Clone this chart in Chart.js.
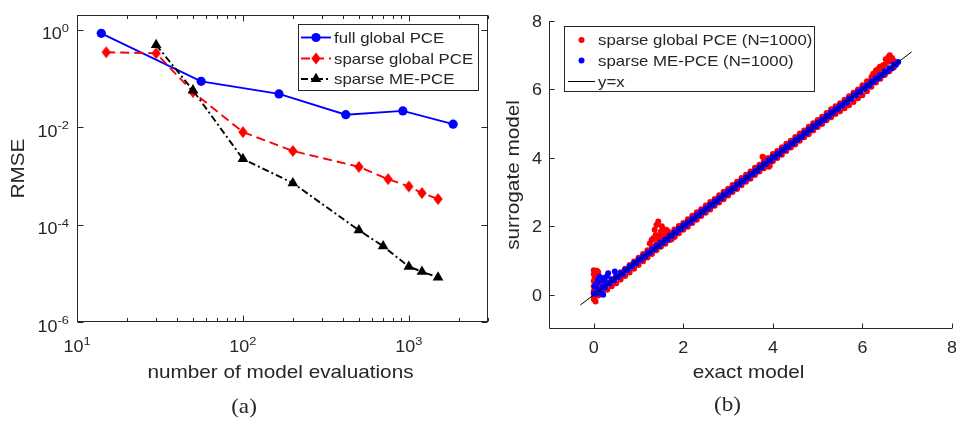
<!DOCTYPE html>
<html>
<head>
<meta charset="utf-8">
<script src="https://cdn.jsdelivr.net/npm/chart.js@4.4.0/dist/chart.umd.min.js"></script>
<style>
  html, body { margin: 0; padding: 0; background: #fff; }
  body { width: 956px; height: 421px; position: relative; overflow: hidden; }
  canvas { position: absolute; top: 0; }
  #convergence { left: 0; }
  #scatter { left: 500px; }
</style>
</head>
<body>
<canvas id="convergence" width="500" height="421"></canvas>
<canvas id="scatter" width="456" height="421"></canvas>
<script>
// ---------- (a) RMSE against number of model evaluations ----------
const seriesNames = ['full global PCE', 'sparse global PCE', 'sparse ME-PCE'];
const nEvalFull   = [14, 56, 165, 417, 920, 1849];
const rmseFull    = [0.84, 0.087, 0.048, 0.018, 0.0215, 0.0115];
const nEvalSparse = [15, 30, 50, 100, 200, 500, 750, 1000, 1200, 1500];
const rmseSparse  = [0.344, 0.328, 0.0525, 0.0079, 0.00324, 0.00153, 0.000857, 0.000605, 0.000444, 0.000334];
const nEvalME     = [30, 50, 100, 200, 500, 700, 1000, 1200, 1500];
const rmseME      = [0.487, 0.0569, 0.00222, 0.00071, 7.65e-5, 3.6e-5, 1.37e-5, 1.08e-5, 8.2e-6];

const xMajorTicks = [10, 100, 1000];
const xMajorExp   = ['1', '2', '3'];
const xMinorTicks = [20, 30, 40, 50, 60, 70, 80, 90, 200, 300, 400, 500, 600, 700, 800, 900, 2000, 3000];
const yMajorTicks = [1, 1e-2, 1e-4, 1e-6];
const yMajorExp   = ['0', '-2', '-4', '-6'];

// ---------- (b) surrogate model against exact model ----------
const scatterNames = ['sparse global PCE (N=1000)', 'sparse ME-PCE (N=1000)', 'y=x'];
const redBandX = [0.0,0.1,0.2,0.3,0.4,0.5,0.6,0.7,0.8,0.9,
  1.0,1.1,1.2,1.3,1.4,1.5,1.6,1.7,1.8,1.9,
  2.0,2.1,2.2,2.3,2.4,2.5,2.6,2.7,2.8,2.9,
  3.0,3.1,3.2,3.3,3.4,3.5,3.6,3.7,3.8,3.9,
  4.0,4.1,4.2,4.3,4.4,4.5,4.6,4.7,4.8,4.9,
  5.0,5.1,5.2,5.3,5.4,5.5,5.6,5.7,5.8,5.9,
  6.0,6.1,6.2,6.3,6.4,6.5,6.6,6.7];
const redUpperY = [0.10,0.22,0.30,0.36,0.46,0.55,0.66,0.76,0.87,0.97,
  1.08,1.19,1.30,1.41,1.50,1.61,1.71,1.80,1.91,2.01,
  2.10,2.21,2.31,2.41,2.50,2.61,2.71,2.80,2.91,3.01,
  3.10,3.21,3.30,3.41,3.51,3.60,3.71,3.80,3.93,4.00,
  4.11,4.20,4.31,4.41,4.50,4.61,4.71,4.80,4.91,5.01,
  5.11,5.20,5.31,5.42,5.51,5.60,5.70,5.80,5.90,6.00,
  6.12,6.24,6.36,6.48,6.60,6.72,6.82,6.84];
const redLowerY = [-0.12,-0.02,0.06,0.15,0.25,0.34,0.45,0.55,0.65,0.76,
  0.87,0.98,1.09,1.19,1.30,1.40,1.49,1.60,1.69,1.80,
  1.90,1.99,2.10,2.19,2.30,2.40,2.49,2.60,2.70,2.79,
  2.90,3.00,3.09,3.20,3.30,3.39,3.50,3.60,3.70,3.76,
  3.90,4.00,4.09,4.20,4.30,4.39,4.50,4.60,4.69,4.80,
  4.90,4.99,5.10,5.19,5.28,5.36,5.45,5.54,5.63,5.74,
  5.83,5.95,6.08,6.20,6.31,6.42,6.53,6.64];
const redOutX = [0.00,0.03,0.07,0.10,0.00,0.02,0.00,0.03,0.00,0.02,0.00,0.01,0.02,0.04,0.08,0.12,0.05,0.06,0.09,
  1.44,1.40,1.36,1.33,1.47,1.55,1.62,1.66,1.59,1.70,1.44,1.29,1.74,1.81,1.50,1.38,1.52,1.25,
  3.77,3.80,3.91,3.93,
  6.61,6.58,6.46,6.39,6.24,6.52,6.30,6.66,6.55,6.45,6.35];
const redOutY = [0.72,0.68,0.70,0.66,0.60,0.50,0.40,0.32,0.25,0.15,0.05,-0.05,-0.15,-0.20,0.45,0.38,0.55,0.20,0.30,
  2.14,2.04,1.90,1.65,1.75,1.92,1.90,1.85,1.75,1.80,1.60,1.60,1.62,1.70,1.85,1.75,2.00,1.50,
  4.03,4.00,3.74,3.77,
  7.00,6.95,6.71,6.66,6.46,6.88,6.55,6.92,6.80,6.62,6.60];

const blueAX = [0.0,0.1,0.2,0.3,0.4,0.5,0.6,0.7,0.8,0.9,
  1.0,1.1,1.2,1.3,1.4,1.5,1.6,1.7,1.8,1.9,
  2.0,2.1,2.2,2.3,2.4,2.5,2.6,2.7,2.8,2.9,
  3.0,3.1,3.2,3.3,3.4,3.5,3.6,3.7,3.8,3.9,
  4.0,4.1,4.2,4.3,4.4,4.5,4.6,4.7,4.8,4.9,
  5.0,5.1,5.2,5.3,5.4,5.5,5.6,5.7,5.8,5.9,
  6.0,6.1,6.2,6.3,6.4,6.5,6.6,6.7,6.8];
const blueAY = [0.04,0.14,0.24,0.34,0.44,0.53,0.63,0.73,0.83,0.93,
  1.03,1.12,1.23,1.33,1.43,1.53,1.62,1.73,1.83,1.93,
  2.03,2.12,2.23,2.33,2.43,2.52,2.63,2.73,2.83,2.93,
  3.03,3.12,3.23,3.33,3.43,3.53,3.62,3.73,3.83,3.93,
  4.03,4.12,4.23,4.33,4.43,4.53,4.62,4.73,4.83,4.93,
  5.03,5.12,5.23,5.33,5.43,5.53,5.62,5.73,5.83,5.93,
  6.03,6.12,6.23,6.33,6.43,6.53,6.62,6.73,6.80];
const blueBX = [0.05,0.15,0.25,0.35,0.45,0.55,0.65,0.75,0.85,0.95,
  1.05,1.15,1.25,1.35,1.45,1.55,1.65,1.75,1.85,1.95,
  2.05,2.15,2.25,2.35,2.45,2.55,2.65,2.75,2.85,2.95,
  3.05,3.15,3.25,3.35,3.45,3.55,3.65,3.75,3.85,3.95,
  4.05,4.15,4.25,4.35,4.45,4.55,4.65,4.75,4.85,4.95,
  5.05,5.15,5.25,5.35,5.45,5.55,5.65,5.75,5.85,5.95,
  6.05,6.15,6.25,6.35,6.45,6.55,6.65,6.75];
const blueBY = [0.02,0.12,0.21,0.32,0.42,0.52,0.61,0.72,0.82,0.92,
  1.02,1.11,1.22,1.32,1.42,1.52,1.61,1.72,1.82,1.92,
  2.02,2.11,2.22,2.32,2.42,2.52,2.61,2.72,2.82,2.92,
  3.02,3.11,3.22,3.32,3.42,3.52,3.61,3.72,3.82,3.92,
  4.02,4.11,4.22,4.32,4.42,4.52,4.61,4.72,4.82,4.92,
  5.02,5.11,5.22,5.32,5.42,5.52,5.61,5.72,5.82,5.92,
  6.02,6.11,6.22,6.32,6.42,6.52,6.61,6.72];
const blueOutX = [0.02,0.05,0.08,0.10,0.13,0.17,0.20,0.21,0.18,0.25,0.32,0.47,0.30];
const blueOutY = [0.24,0.30,0.35,0.45,0.53,0.48,0.42,0.00,0.03,0.50,0.63,0.68,0.55];
const diagEnds = [-0.3, 7.1];
const linTicks = [0, 2, 4, 6, 8];

// ---------- drawing helpers ----------
const INK = '#262626';
const SANS = '"Liberation Sans", Arial, Helvetica, sans-serif';
const SERIF = '"Liberation Serif", "DejaVu Serif", serif';
const SX = 1.12;

function drawText(ctx, s, x, y, o = {}) {
  const size = o.size || 16, family = o.family || SANS, sx = o.sx || SX;
  ctx.save();
  ctx.translate(x, y);
  if (o.rot) ctx.rotate(o.rot);
  ctx.scale(sx, 1);
  ctx.font = size + 'px ' + family;
  ctx.fillStyle = o.color || INK;
  ctx.textAlign = o.align || 'left';
  ctx.textBaseline = o.base || 'alphabetic';
  ctx.fillText(s, 0, 0);
  ctx.restore();
}
function textWidth(ctx, s, size, family = SANS, sx = SX) {
  ctx.save();
  ctx.font = size + 'px ' + family;
  const w = ctx.measureText(s).width * sx;
  ctx.restore();
  return w;
}
// "10" with a raised exponent; anchor is the label's right edge or centre
function drawPower(ctx, exp, x, baseline, align) {
  const wb = textWidth(ctx, '10', 16), we = textWidth(ctx, exp, 11.5);
  const left = align === 'right' ? x - wb - we : x - (wb + we) / 2;
  drawText(ctx, '10', left, baseline, { size: 16 });
  drawText(ctx, exp, left + wb, baseline - 7.5, { size: 11.5 });
}
// marker shapes shared by the plot and its legend
function markerPath(ctx, style, r, x, y) {
  ctx.beginPath();
  if (style === 'circle') {
    ctx.arc(x, y, r, 0, Math.PI * 2);
  } else if (style === 'diamond') {
    const hw = r * 0.78;
    ctx.moveTo(x - hw, y); ctx.lineTo(x, y - r); ctx.lineTo(x + hw, y); ctx.lineTo(x, y + r);
  } else if (style === 'triangle') {
    for (let k = 0; k < 3; k++) {
      const a = k * 2 * Math.PI / 3;
      const px = x + Math.sin(a) * r, py = y - Math.cos(a) * r;
      if (k === 0) ctx.moveTo(px, py); else ctx.lineTo(px, py);
    }
  }
  ctx.closePath();
}
function drawMarker(ctx, style, r, x, y, color) {
  ctx.save();
  ctx.setLineDash([]);
  ctx.fillStyle = color;
  markerPath(ctx, style, r, x, y);
  ctx.fill();
  ctx.restore();
}
// a diamond sprite for Chart.js' pointStyle (taller than wide)
function diamondSprite(r, color) {
  const c = document.createElement('canvas');
  const s = Math.ceil(2 * r + 2);
  c.width = s; c.height = s;
  drawMarker(c.getContext('2d'), 'diamond', r, s / 2, s / 2, color);
  return c;
}
function drawLegendFrame(ctx, x0, y0, w, h) {
  ctx.save();
  ctx.fillStyle = '#fff';
  ctx.fillRect(x0, y0, w, h);
  ctx.strokeStyle = INK;
  ctx.lineWidth = 1;
  ctx.strokeRect(Math.round(x0) + 0.5, Math.round(y0) + 0.5, Math.round(w), Math.round(h));
  ctx.restore();
}

// ---------- decorations of panel (a) ----------
const convergenceDecor = {
  id: 'convergenceDecor',
  afterDraw(chart) {
    const { ctx, chartArea: a, scales: { x, y } } = chart;
    const L = Math.round(a.left) + 0.5, R = Math.round(a.right) - 0.5;
    const T = Math.round(a.top) + 0.5, B = Math.round(a.bottom) - 0.5;
    ctx.save();
    ctx.strokeStyle = INK;
    ctx.lineWidth = 1;
    ctx.setLineDash([]);
    ctx.strokeRect(L, T, R - L, B - T);
    ctx.beginPath();
    for (const v of xMajorTicks.concat(xMinorTicks)) {
      const len = xMajorTicks.includes(v) ? 6 : 3.5;
      const px = Math.round(x.getPixelForValue(v)) + 0.5;
      ctx.moveTo(px, B); ctx.lineTo(px, B - len);
      ctx.moveTo(px, T); ctx.lineTo(px, T + len);
    }
    for (const v of yMajorTicks) {
      const py = Math.round(y.getPixelForValue(v)) + 0.5;
      ctx.moveTo(L, py); ctx.lineTo(L + 6, py);
      ctx.moveTo(R, py); ctx.lineTo(R - 6, py);
    }
    ctx.stroke();
    ctx.restore();

    xMajorTicks.forEach((v, i) => drawPower(ctx, xMajorExp[i], x.getPixelForValue(v), a.bottom + 30, 'center'));
    yMajorTicks.forEach((v, i) => drawPower(ctx, yMajorExp[i], a.left - 8, y.getPixelForValue(v) + 9.5, 'right'));

    drawText(ctx, 'number of model evaluations', (a.left + a.right) / 2 - 2, 378, { size: 18.5, align: 'center' });
    drawText(ctx, 'RMSE', 19, (a.top + a.bottom) / 2, { size: 18.5, align: 'center', base: 'middle', rot: -Math.PI / 2 });
    drawText(ctx, '(a)', 244, 407, { size: 21, family: SERIF, align: 'center', base: 'middle', sx: 1.1 });

    // legend
    drawLegendFrame(ctx, 297.5, 23.5, 180, 66);
    const rows = [37.5, 58.5, 79];
    chart.data.datasets.forEach((ds, i) => {
      const yy = rows[i];
      ctx.save();
      ctx.strokeStyle = ds.borderColor;
      ctx.lineWidth = ds.borderWidth;
      ctx.setLineDash(ds.borderDash || []);
      ctx.beginPath(); ctx.moveTo(301, yy); ctx.lineTo(331, yy); ctx.stroke();
      ctx.restore();
      drawMarker(ctx, ds.markerShape, ds.markerSize, 316, yy, ds.borderColor);
      drawText(ctx, ds.label, 334, yy + 1, { size: 15, base: 'middle' });
    });
  }
};

// ---------- decorations of panel (b) ----------
const scatterDecor = {
  id: 'scatterDecor',
  afterDraw(chart) {
    const { ctx, chartArea: a, scales: { x, y } } = chart;
    const L = Math.round(a.left) + 0.5, B = Math.round(a.bottom) - 0.5;
    const T = Math.round(a.top), R = Math.round(a.right);
    ctx.save();
    ctx.strokeStyle = INK;
    ctx.lineWidth = 1;
    ctx.setLineDash([]);
    ctx.beginPath();
    ctx.moveTo(L, T); ctx.lineTo(L, B); ctx.lineTo(R, B);
    for (const v of linTicks) {
      const px = Math.round(x.getPixelForValue(v)) + 0.5;
      ctx.moveTo(px, B); ctx.lineTo(px, B - 5);
      const py = Math.round(y.getPixelForValue(v)) + 0.5;
      ctx.moveTo(L, py); ctx.lineTo(L + 5, py);
    }
    ctx.stroke();
    ctx.restore();

    for (const v of linTicks) {
      drawText(ctx, String(v), x.getPixelForValue(v), a.bottom + 24, { size: 16, align: 'center' });
      drawText(ctx, String(v), a.left - 7, y.getPixelForValue(v) + 6, { size: 16, align: 'right' });
    }
    drawText(ctx, 'exact model', (a.left + a.right) / 2 - 2, 378, { size: 18.5, align: 'center' });
    drawText(ctx, 'surrogate model', 14, (a.top + a.bottom) / 2, { size: 18.5, align: 'center', base: 'middle', rot: -Math.PI / 2 });
    drawText(ctx, '(b)', 227.5, 405, { size: 21, family: SERIF, align: 'center', base: 'middle', sx: 1.1 });

    // legend
    drawLegendFrame(ctx, 63.5, 26, 250, 64.5);
    const rows = [40, 60.5, 81.5];
    chart.data.datasets.forEach((ds, i) => {
      const yy = rows[i];
      if (ds.showLine) {
        ctx.save();
        ctx.strokeStyle = ds.borderColor;
        ctx.lineWidth = ds.borderWidth;
        ctx.beginPath(); ctx.moveTo(68, yy); ctx.lineTo(95, yy); ctx.stroke();
        ctx.restore();
      } else {
        drawMarker(ctx, 'circle', ds.pointRadius, 81.5, yy, ds.backgroundColor);
      }
      drawText(ctx, ds.label, 98, yy + 1, { size: 15, base: 'middle' });
    });
  }
};

const pairs = (xs, ys) => xs.map((v, i) => ({ x: v, y: ys[i] }));

new Chart(document.getElementById('convergence'), {
  type: 'scatter',
  data: {
    datasets: [
      { label: seriesNames[0], data: pairs(nEvalFull, rmseFull), showLine: true,
        borderColor: '#0000ff', backgroundColor: '#0000ff', borderWidth: 1.9,
        pointStyle: 'circle', pointRadius: 4.6, pointBorderWidth: 0, order: 3,
        markerShape: 'circle', markerSize: 4.6 },
      { label: seriesNames[1], data: pairs(nEvalSparse, rmseSparse), showLine: true,
        borderColor: '#ff0000', backgroundColor: '#ff0000', borderWidth: 1.9, borderDash: [9, 5],
        pointStyle: diamondSprite(6, '#ff0000'), pointRadius: 6, pointBorderWidth: 0, order: 2,
        markerShape: 'diamond', markerSize: 6 },
      { label: seriesNames[2], data: pairs(nEvalME, rmseME), showLine: true,
        borderColor: '#000000', backgroundColor: '#000000', borderWidth: 1.9, borderDash: [7, 3, 2, 3],
        pointStyle: 'triangle', pointRadius: 6.2, pointBorderWidth: 0, order: 1,
        markerShape: 'triangle', markerSize: 6.2 }
    ]
  },
  options: {
    responsive: false, animation: false, events: [],
    layout: { padding: { left: 0, top: 15, right: 12, bottom: 0 } },
    plugins: { legend: { display: false }, tooltip: { enabled: false } },
    scales: {
      x: { type: 'logarithmic', min: 10, max: 3000,
        grid: { display: false }, border: { display: false }, ticks: { display: false },
        afterFit(s) { s.height = 99; } },
      y: { type: 'logarithmic', min: 1e-6, max: 2,
        grid: { display: false }, border: { display: false }, ticks: { display: false },
        afterFit(s) { s.width = 77; } }
    }
  },
  plugins: [convergenceDecor]
});

new Chart(document.getElementById('scatter'), {
  type: 'scatter',
  data: {
    datasets: [
      { label: scatterNames[0],
        data: pairs(redBandX, redUpperY).concat(pairs(redBandX, redLowerY), pairs(redOutX, redOutY)),
        backgroundColor: '#ff0000', borderColor: '#ff0000', pointRadius: 3, pointBorderWidth: 0, order: 3 },
      { label: scatterNames[1],
        data: pairs(blueAX, blueAY).concat(pairs(blueBX, blueBY), pairs(blueOutX, blueOutY)),
        backgroundColor: '#0000ff', borderColor: '#0000ff', pointRadius: 3, pointBorderWidth: 0, order: 2 },
      { label: scatterNames[2], data: pairs(diagEnds, diagEnds), showLine: true,
        borderColor: '#000000', backgroundColor: '#000000', borderWidth: 1, pointRadius: 0, order: 1 }
    ]
  },
  options: {
    responsive: false, animation: false, events: [],
    layout: { padding: { left: 0, top: 21, right: 3, bottom: 0 } },
    plugins: { legend: { display: false }, tooltip: { enabled: false } },
    scales: {
      x: { type: 'linear', min: -1, max: 8,
        grid: { display: false }, border: { display: false }, ticks: { display: false },
        afterFit(s) { s.height = 92; } },
      y: { type: 'linear', min: -1, max: 8,
        grid: { display: false }, border: { display: false }, ticks: { display: false },
        afterFit(s) { s.width = 49; } }
    }
  },
  plugins: [scatterDecor]
});
</script>
</body>
</html>
